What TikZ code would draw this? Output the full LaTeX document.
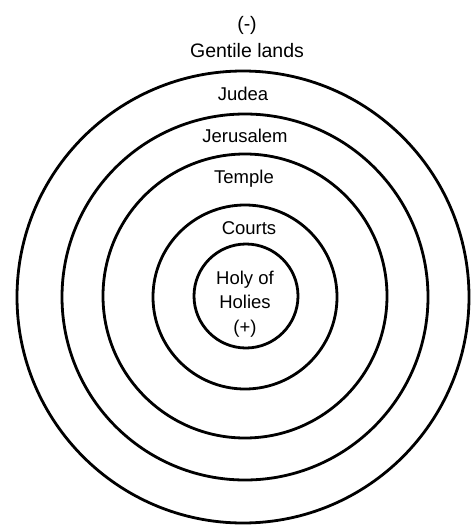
\documentclass[tikz,border=0pt]{standalone}
\usepackage{fontspec}
\setmainfont{Liberation Sans}
\usepackage{tikz}
\usetikzlibrary{positioning}

\begin{document}
\begin{tikzpicture}[
  x=1pt,y=-1pt,
  ring/.style={draw,circle,line width=2.8pt,inner sep=0pt},
  zone/.style={font=\fontsize{18.5}{24.5}\selectfont,align=center,inner sep=0pt,anchor=base},
]
\useasboundingbox (0,0) rectangle (471,527);
% rings, outside in
\node[ring,minimum size=452pt] (judea) at (243,297) {};
\node[ring,minimum size=366pt] (jerusalem) at (245,297) {};
\node[ring,minimum size=284pt] (temple) at (245,296) {};
\node[ring,minimum size=184pt] (courts) at (245,297) {};
\node[ring,minimum size=104pt] (holies) at (246,296) {};
% labels (base = last line)
\node[zone,font=\fontsize{19.5}{27}\selectfont] (gentileTxt) at (247,57) {(-)\\Gentile lands};
\node[zone] (judeaTxt) at (243,100) {Judea};
\node[zone] (jerusalemTxt) at (245,142) {Jerusalem};
\node[zone] (templeTxt) at (244,183) {Temple};
\node[zone] (courtsTxt) at (249,234) {Courts};
\node[zone] (holiesTxt) at (245,333) {Holy of\\Holies\\(+)};
\end{tikzpicture}
\end{document}
